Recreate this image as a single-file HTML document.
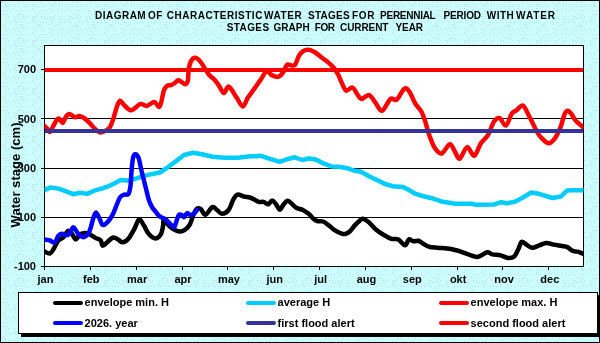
<!DOCTYPE html>
<html><head><meta charset="utf-8"><style>html,body{margin:0;padding:0;background:#CCFFFF;overflow:hidden}svg{display:block;will-change:transform}</style></head>
<body><svg width="600" height="343" viewBox="0 0 600 343">
<defs><pattern id="dots" width="18" height="12" patternUnits="userSpaceOnUse"><rect width="18" height="12" fill="#CCFFFF"/><rect x="3" y="0" width="1" height="1" fill="#B4E2EC"/><rect x="1" y="2" width="1" height="1" fill="#B4E2EC"/><rect x="4" y="2" width="1" height="1" fill="#B4E2EC"/><rect x="5" y="4" width="1" height="1" fill="#B4E2EC"/><rect x="8" y="4" width="1" height="1" fill="#B4E2EC"/><rect x="14" y="4" width="1" height="1" fill="#B4E2EC"/><rect x="17" y="4" width="1" height="1" fill="#B4E2EC"/><rect x="0" y="6" width="1" height="1" fill="#B4E2EC"/><rect x="6" y="6" width="1" height="1" fill="#B4E2EC"/><rect x="15" y="6" width="1" height="1" fill="#B4E2EC"/><rect x="14" y="8" width="1" height="1" fill="#B4E2EC"/><rect x="4" y="10" width="1" height="1" fill="#B4E2EC"/><rect x="7" y="10" width="1" height="1" fill="#B4E2EC"/><rect x="10" y="10" width="1" height="1" fill="#B4E2EC"/><rect x="16" y="10" width="1" height="1" fill="#B4E2EC"/></pattern>
<clipPath id="plot"><rect x="44.5" y="45.5" width="539" height="221"/></clipPath></defs>
<rect x="0" y="0" width="600" height="343" fill="url(#dots)"/>
<rect x="0.5" y="0.5" width="599" height="342" fill="none" stroke="#000" stroke-width="1"/>
<rect x="44.5" y="45.5" width="539" height="221" fill="#fff" stroke="#000" stroke-width="1"/>
<line x1="44" y1="118.5" x2="584" y2="118.5" stroke="#000" stroke-width="1"/>
<line x1="44" y1="168.5" x2="584" y2="168.5" stroke="#000" stroke-width="1"/>
<line x1="44" y1="217.5" x2="584" y2="217.5" stroke="#000" stroke-width="1"/>
<line x1="41" y1="69.5" x2="44" y2="69.5" stroke="#000" stroke-width="1"/>
<text x="36" y="73" text-anchor="end" font-family='"Liberation Sans", sans-serif' font-weight="bold" font-size="11">700</text>
<line x1="41" y1="118.5" x2="44" y2="118.5" stroke="#000" stroke-width="1"/>
<text x="36" y="123" text-anchor="end" font-family='"Liberation Sans", sans-serif' font-weight="bold" font-size="11">500</text>
<line x1="41" y1="168.5" x2="44" y2="168.5" stroke="#000" stroke-width="1"/>
<text x="36" y="172" text-anchor="end" font-family='"Liberation Sans", sans-serif' font-weight="bold" font-size="11">300</text>
<line x1="41" y1="217.5" x2="44" y2="217.5" stroke="#000" stroke-width="1"/>
<text x="36" y="221" text-anchor="end" font-family='"Liberation Sans", sans-serif' font-weight="bold" font-size="11">100</text>
<line x1="41" y1="266.5" x2="44" y2="266.5" stroke="#000" stroke-width="1"/>
<text x="36" y="270" text-anchor="end" font-family='"Liberation Sans", sans-serif' font-weight="bold" font-size="11">-100</text>
<line x1="44.5" y1="266" x2="44.5" y2="270" stroke="#000" stroke-width="1"/>
<text x="45.5" y="283" text-anchor="middle" font-family='"Liberation Sans", sans-serif' font-weight="bold" font-size="11">jan</text>
<line x1="90.5" y1="266" x2="90.5" y2="270" stroke="#000" stroke-width="1"/>
<text x="91.35" y="283" text-anchor="middle" font-family='"Liberation Sans", sans-serif' font-weight="bold" font-size="11">feb</text>
<line x1="136.5" y1="266" x2="136.5" y2="270" stroke="#000" stroke-width="1"/>
<text x="137.2" y="283" text-anchor="middle" font-family='"Liberation Sans", sans-serif' font-weight="bold" font-size="11">mar</text>
<line x1="182.5" y1="266" x2="182.5" y2="270" stroke="#000" stroke-width="1"/>
<text x="183.05" y="283" text-anchor="middle" font-family='"Liberation Sans", sans-serif' font-weight="bold" font-size="11">apr</text>
<line x1="227.5" y1="266" x2="227.5" y2="270" stroke="#000" stroke-width="1"/>
<text x="228.9" y="283" text-anchor="middle" font-family='"Liberation Sans", sans-serif' font-weight="bold" font-size="11">may</text>
<line x1="273.5" y1="266" x2="273.5" y2="270" stroke="#000" stroke-width="1"/>
<text x="274.75" y="283" text-anchor="middle" font-family='"Liberation Sans", sans-serif' font-weight="bold" font-size="11">jun</text>
<line x1="319.5" y1="266" x2="319.5" y2="270" stroke="#000" stroke-width="1"/>
<text x="320.6" y="283" text-anchor="middle" font-family='"Liberation Sans", sans-serif' font-weight="bold" font-size="11">jul</text>
<line x1="365.5" y1="266" x2="365.5" y2="270" stroke="#000" stroke-width="1"/>
<text x="366.45" y="283" text-anchor="middle" font-family='"Liberation Sans", sans-serif' font-weight="bold" font-size="11">aug</text>
<line x1="411.5" y1="266" x2="411.5" y2="270" stroke="#000" stroke-width="1"/>
<text x="412.3" y="283" text-anchor="middle" font-family='"Liberation Sans", sans-serif' font-weight="bold" font-size="11">sep</text>
<line x1="457.5" y1="266" x2="457.5" y2="270" stroke="#000" stroke-width="1"/>
<text x="458.15000000000003" y="283" text-anchor="middle" font-family='"Liberation Sans", sans-serif' font-weight="bold" font-size="11">okt</text>
<line x1="502.5" y1="266" x2="502.5" y2="270" stroke="#000" stroke-width="1"/>
<text x="504.0" y="283" text-anchor="middle" font-family='"Liberation Sans", sans-serif' font-weight="bold" font-size="11">nov</text>
<line x1="548.5" y1="266" x2="548.5" y2="270" stroke="#000" stroke-width="1"/>
<text x="549.85" y="283" text-anchor="middle" font-family='"Liberation Sans", sans-serif' font-weight="bold" font-size="11">dec</text>
<g clip-path="url(#plot)" fill="none" stroke-linejoin="round" stroke-linecap="round">
<path d="M44.5,251.5 C45.4,251.8 48.3,253.9 49.8,253.5 C51.3,253.1 52.2,251.2 53.6,249.0 C55.0,246.8 56.8,242.3 58.4,240.4 C60.0,238.5 61.6,239.1 63.2,237.5 C64.8,235.9 66.5,231.4 68.0,230.8 C69.5,230.2 70.6,232.3 71.9,233.7 C73.2,235.1 74.3,239.3 75.7,239.4 C77.1,239.5 78.9,235.2 80.5,234.2 C82.1,233.1 83.7,233.0 85.3,233.1 C86.9,233.2 88.4,233.8 90.2,234.6 C92.0,235.4 94.2,237.1 95.9,238.1 C97.7,239.1 99.6,239.1 100.7,240.4 C101.8,241.7 101.6,245.6 102.7,245.8 C103.8,246.1 105.8,243.3 107.5,241.9 C109.2,240.5 111.5,237.9 113.2,237.5 C115.0,237.1 116.4,238.6 118.0,239.4 C119.6,240.2 121.0,242.5 122.8,242.3 C124.6,242.2 126.7,240.8 128.6,238.5 C130.5,236.2 132.6,232.0 134.4,228.8 C136.2,225.6 137.6,219.7 139.2,219.2 C140.8,218.7 142.4,223.3 143.9,225.6 C145.4,227.9 146.5,230.8 147.9,232.8 C149.3,234.8 151.0,236.5 152.5,237.4 C154.0,238.3 155.7,238.7 157.1,238.1 C158.5,237.5 160.0,236.1 161.0,234.1 C162.0,232.1 162.6,228.6 163.0,226.2 C163.4,223.8 163.2,220.4 163.6,219.7 C164.0,218.9 164.5,220.5 165.6,221.7 C166.7,222.9 168.6,225.5 170.2,226.9 C171.8,228.3 173.7,229.4 175.4,230.2 C177.2,231.0 179.0,231.6 180.7,231.5 C182.3,231.4 183.8,230.7 185.3,229.5 C186.8,228.3 188.6,226.6 189.9,224.3 C191.2,222.0 192.0,218.2 193.1,215.7 C194.2,213.2 195.1,210.3 196.4,209.2 C197.7,208.1 199.2,208.1 200.7,209.0 C202.2,209.9 203.6,215.1 205.5,214.8 C207.4,214.5 210.4,207.9 212.3,207.1 C214.2,206.3 215.5,208.9 217.1,210.0 C218.7,211.1 220.0,213.8 221.9,213.8 C223.8,213.8 226.7,212.4 228.6,210.0 C230.5,207.6 231.9,202.0 233.4,199.4 C234.9,196.8 235.5,195.1 237.3,194.6 C239.1,194.1 241.9,196.0 244.0,196.5 C246.1,197.0 248.1,197.0 249.8,197.5 C251.5,198.0 252.5,198.7 254.0,199.4 C255.5,200.1 257.1,201.5 258.7,201.9 C260.3,202.3 261.9,201.5 263.5,201.9 C265.1,202.3 266.9,204.4 268.3,204.2 C269.7,203.9 270.8,200.4 272.1,200.4 C273.4,200.4 274.7,202.7 276.0,204.2 C277.3,205.7 278.5,209.6 279.8,209.6 C281.1,209.6 282.4,205.7 283.7,204.2 C285.0,202.7 286.2,201.0 287.5,200.8 C288.8,200.7 289.9,202.2 291.3,203.3 C292.8,204.5 294.3,206.6 296.2,207.7 C298.1,208.8 300.8,209.0 302.9,210.0 C305.0,211.0 306.9,212.4 308.7,213.8 C310.5,215.2 312.1,217.5 313.5,218.7 C314.9,219.9 315.7,220.7 317.3,221.2 C318.9,221.7 321.2,220.8 323.1,221.5 C325.0,222.2 326.9,224.0 328.8,225.4 C330.7,226.8 332.7,228.9 334.6,230.2 C336.5,231.5 338.6,232.5 340.4,233.1 C342.2,233.7 343.6,234.3 345.2,234.0 C346.8,233.7 348.4,232.6 350.0,231.2 C351.6,229.8 353.3,227.0 354.8,225.4 C356.3,223.8 357.5,222.6 358.8,221.5 C360.1,220.4 361.1,218.7 362.7,218.8 C364.3,218.9 366.2,220.3 368.5,222.1 C370.8,223.9 373.6,227.7 376.2,229.8 C378.8,232.0 381.2,233.5 383.8,235.0 C386.4,236.5 389.1,238.1 391.5,238.8 C393.9,239.5 396.1,238.3 398.3,239.4 C400.6,240.5 403.2,245.2 405.0,245.2 C406.8,245.2 407.4,240.1 408.8,239.4 C410.2,238.8 412.1,241.1 413.7,241.3 C415.3,241.5 416.9,240.4 418.5,240.8 C420.1,241.2 421.6,242.8 423.3,243.8 C425.1,244.8 426.6,246.0 429.0,246.7 C431.4,247.3 434.6,247.4 437.7,247.7 C440.8,248.0 444.4,248.1 447.3,248.5 C450.2,248.9 452.9,249.5 455.0,250.0 C457.1,250.5 457.8,250.6 460.0,251.3 C462.2,252.0 465.4,253.5 468.3,254.4 C471.2,255.3 474.6,257.2 477.7,256.9 C480.8,256.5 484.7,252.7 487.1,252.3 C489.5,251.9 490.1,253.9 492.3,254.4 C494.6,254.9 498.0,254.8 500.6,255.4 C503.2,256.0 505.6,257.7 507.9,257.9 C510.2,258.1 512.5,257.9 514.2,256.5 C515.9,255.1 517.1,251.6 518.3,249.2 C519.5,246.8 520.3,242.8 521.5,241.9 C522.7,241.0 523.9,243.0 525.6,244.0 C527.3,245.0 529.6,247.5 531.9,247.7 C534.2,247.9 536.8,246.2 539.2,245.4 C541.6,244.6 544.1,243.0 546.5,242.9 C548.9,242.8 551.2,244.1 553.8,244.6 C556.4,245.1 559.9,245.6 562.1,246.0 C564.4,246.4 565.6,246.3 567.3,247.1 C569.0,247.9 570.8,250.0 572.5,250.8 C574.2,251.6 575.9,251.2 577.7,251.7 C579.5,252.2 582.5,253.5 583.5,253.8" stroke="#000" stroke-width="4.5"/>
<path d="M44.5,190.1 L51.0,187.4 L59.2,188.9 L66.2,191.3 L73.2,194.2 L80.2,192.8 L87.2,193.9 L94.2,190.7 L102.3,188.3 L110.0,185.6 L115.2,183.0 L120.5,180.1 L127.0,180.6 L133.6,179.3 L140.1,177.1 L148.0,174.9 L159.8,172.5 L167.7,167.3 L175.3,161.8 L184.0,155.0 L193.0,152.7 L202.0,154.2 L212.5,156.8 L224.5,157.7 L238.0,157.7 L250.0,156.2 L255.5,156.3 L261.0,155.8 L270.0,158.8 L279.7,161.8 L287.2,159.2 L294.7,157.3 L302.2,160.0 L309.0,158.5 L316.5,159.7 L324.0,163.7 L331.5,166.4 L339.0,166.7 L347.5,168.2 L353.5,170.5 L361.0,171.7 L370.0,176.8 L377.5,180.2 L385.0,184.0 L392.5,186.2 L403.0,187.0 L409.0,190.0 L415.0,193.7 L422.5,196.0 L434.0,198.8 L443.0,201.8 L455.0,203.7 L471.5,203.7 L476.0,204.8 L494.0,204.5 L501.5,202.2 L506.7,203.3 L515.0,201.8 L523.0,197.5 L531.0,192.6 L539.0,193.8 L552.5,198.0 L561.0,196.5 L567.0,190.5 L573.5,190.3 L583.5,190.3" stroke="#00CCFF" stroke-width="4.5"/>
<path d="M44.5,126.0 C45.0,126.5 46.4,127.7 47.3,128.7 C48.2,129.7 49.0,132.4 50.0,132.0 C51.0,131.6 52.2,128.0 53.3,126.0 C54.4,124.0 55.7,121.2 56.7,120.0 C57.7,118.8 58.3,118.2 59.3,118.7 C60.3,119.2 61.6,123.2 62.7,122.9 C63.8,122.6 64.9,118.2 66.0,116.7 C67.1,115.2 67.8,113.9 69.3,114.0 C70.8,114.1 73.6,117.0 75.3,117.3 C77.0,117.6 77.8,115.9 79.3,116.0 C80.8,116.1 82.3,116.9 84.0,118.0 C85.7,119.1 87.5,120.9 89.3,122.7 C91.1,124.5 93.1,127.1 94.7,128.7 C96.3,130.2 97.4,131.4 98.7,132.0 C100.0,132.6 100.9,132.7 102.7,132.0 C104.5,131.3 107.5,130.2 109.3,128.0 C111.1,125.8 112.1,122.2 113.3,118.7 C114.5,115.2 115.6,110.3 116.7,107.3 C117.8,104.3 118.8,101.0 120.0,100.7 C121.2,100.4 122.5,103.6 124.2,105.2 C126.0,106.8 128.6,109.8 130.5,110.2 C132.4,110.6 133.8,108.8 135.5,107.7 C137.2,106.7 138.6,104.2 140.5,103.9 C142.4,103.6 144.5,106.2 146.8,105.9 C149.1,105.6 152.1,102.0 154.3,102.1 C156.5,102.2 158.2,108.3 159.8,106.4 C161.4,104.5 162.6,94.1 163.8,90.7 C165.0,87.3 165.8,86.8 167.0,85.9 C168.2,85.0 169.8,85.5 171.0,85.1 C172.2,84.7 173.0,84.3 174.2,83.5 C175.4,82.7 177.0,80.6 178.2,80.3 C179.4,80.0 180.2,81.2 181.4,81.9 C182.6,82.6 184.3,84.6 185.4,84.3 C186.5,84.0 187.4,82.8 187.9,80.3 C188.4,77.8 188.2,72.2 188.7,69.0 C189.2,65.8 190.0,62.9 191.1,61.0 C192.2,59.1 193.6,57.8 195.1,57.8 C196.6,57.8 198.3,59.3 199.9,61.0 C201.5,62.7 203.1,65.8 204.7,68.2 C206.3,70.6 207.9,73.5 209.5,75.4 C211.1,77.3 212.7,77.8 214.3,79.5 C215.9,81.2 217.5,83.6 219.1,85.9 C220.7,88.2 222.4,93.0 223.9,93.1 C225.4,93.2 226.6,87.3 227.9,86.7 C229.2,86.1 230.2,87.8 231.6,89.6 C233.0,91.4 234.7,94.8 236.6,97.6 C238.5,100.4 241.0,106.4 242.9,106.4 C244.8,106.4 246.0,100.5 247.9,97.6 C249.8,94.7 252.1,91.8 254.2,88.9 C256.3,86.0 258.3,83.0 260.4,80.1 C262.5,77.2 264.8,72.1 266.7,71.3 C268.6,70.5 269.8,74.2 271.7,75.1 C273.6,76.0 276.1,77.2 278.0,76.8 C279.9,76.4 281.5,74.6 283.0,72.6 C284.5,70.6 285.6,66.3 286.8,65.0 C288.0,63.7 288.7,65.0 290.0,65.0 C291.3,65.0 293.3,66.5 294.8,65.0 C296.3,63.5 297.5,58.5 298.8,56.2 C300.1,53.9 301.2,52.5 302.8,51.4 C304.4,50.3 306.4,49.7 308.4,49.8 C310.4,49.9 312.5,50.9 314.8,52.2 C317.1,53.5 319.7,56.1 322.0,57.8 C324.3,59.5 326.5,60.9 328.5,62.6 C330.5,64.3 332.5,66.2 334.1,68.2 C335.7,70.2 336.8,72.0 338.1,74.6 C339.4,77.1 340.8,80.8 342.1,83.5 C343.4,86.2 344.4,90.0 346.1,90.7 C347.8,91.4 350.6,86.8 352.5,87.5 C354.4,88.2 356.3,93.2 357.8,95.1 C359.3,97.0 359.7,98.9 361.6,98.9 C363.5,98.9 366.8,94.5 369.1,95.1 C371.4,95.7 373.2,100.0 375.4,102.6 C377.6,105.2 379.6,111.3 382.1,110.7 C384.6,110.1 388.0,100.8 390.4,98.9 C392.8,97.1 394.4,101.3 396.7,99.6 C399.0,97.9 402.1,90.3 404.2,88.9 C406.3,87.5 407.3,88.9 409.2,91.4 C411.1,93.9 413.5,100.6 415.5,103.9 C417.5,107.2 419.7,108.6 421.3,111.5 C422.9,114.4 423.9,117.4 425.2,121.2 C426.5,125.0 427.4,130.1 429.0,134.6 C430.6,139.1 432.7,144.9 434.8,148.1 C436.9,151.2 439.0,154.2 441.5,153.5 C444.0,152.8 447.6,144.5 449.8,144.2 C452.1,143.9 453.3,149.5 455.0,151.9 C456.7,154.3 457.8,159.5 459.8,158.7 C461.8,157.9 464.7,147.6 467.1,147.1 C469.5,146.6 471.9,156.4 474.2,155.8 C476.5,155.2 478.6,146.8 480.9,143.3 C483.2,139.9 485.7,138.8 487.9,135.1 C490.1,131.4 492.2,124.1 494.2,121.3 C496.2,118.5 497.8,117.4 499.7,118.1 C501.6,118.8 503.9,126.3 505.9,125.6 C507.9,124.9 509.9,116.4 511.7,113.8 C513.5,111.2 514.8,111.5 516.7,110.1 C518.6,108.7 520.9,104.5 523.0,105.5 C525.1,106.5 526.9,112.0 529.2,116.3 C531.5,120.6 534.9,128.0 536.8,131.4 C538.7,134.8 538.5,134.7 540.4,136.7 C542.3,138.7 546.0,142.9 548.4,143.2 C550.8,143.5 552.9,141.0 554.9,138.3 C556.9,135.6 558.9,131.1 560.5,127.1 C562.1,123.1 563.3,117.0 564.5,114.3 C565.7,111.6 566.5,110.7 567.7,110.7 C568.9,110.7 570.4,112.6 571.7,114.3 C573.0,116.0 574.0,118.7 575.7,120.7 C577.5,122.7 580.9,125.1 582.2,126.3 C583.5,127.5 583.3,127.7 583.5,128.0" stroke="#FF0000" stroke-width="4.5"/>
<path d="M44.5,239.5 C45.4,239.7 48.3,240.0 50.0,240.5 C51.7,241.0 53.3,243.1 54.7,242.3 C56.1,241.5 57.2,237.2 58.4,235.8 C59.6,234.4 60.8,233.9 62.0,233.8 C63.2,233.7 64.5,235.3 65.7,235.3 C66.9,235.3 68.2,235.3 69.4,234.0 C70.6,232.7 71.8,227.7 73.0,227.3 C74.2,226.9 75.6,230.3 76.7,231.6 C77.8,232.9 78.2,234.4 79.4,235.3 C80.6,236.2 82.5,237.4 84.0,237.1 C85.5,236.8 87.2,235.1 88.3,233.5 C89.4,231.9 90.0,229.7 90.8,227.3 C91.6,224.9 92.2,221.7 93.0,219.2 C93.8,216.7 94.8,212.5 95.9,212.5 C97.0,212.5 98.7,217.1 99.8,219.2 C100.9,221.3 101.4,224.5 102.7,225.0 C104.0,225.5 105.9,223.7 107.5,222.1 C109.1,220.5 110.8,218.1 112.3,215.4 C113.8,212.8 114.9,209.3 116.2,206.2 C117.5,203.1 118.9,198.9 120.3,197.0 C121.7,195.1 123.0,195.1 124.4,194.6 C125.8,194.1 127.5,195.5 128.5,194.0 C129.5,192.5 130.0,189.6 130.5,185.8 C131.0,182.1 131.1,176.3 131.5,171.5 C131.9,166.7 132.5,160.1 133.2,157.2 C133.9,154.3 134.7,154.0 135.6,154.2 C136.5,154.4 137.7,155.4 138.7,158.3 C139.7,161.2 140.5,166.6 141.7,171.5 C142.9,176.4 144.6,183.1 145.8,187.9 C147.0,192.7 147.9,197.0 148.9,200.1 C149.9,203.2 150.7,204.6 151.8,206.6 C152.9,208.6 154.4,210.2 155.7,211.8 C157.0,213.4 157.9,215.1 159.7,216.4 C161.4,217.7 163.9,217.9 166.2,219.7 C168.5,221.4 171.8,226.5 173.5,226.9 C175.2,227.3 175.2,224.3 176.1,222.3 C177.0,220.3 177.7,216.3 178.7,215.1 C179.7,213.9 181.1,214.8 182.0,215.1 C182.9,215.4 183.1,217.4 184.0,217.1 C184.9,216.8 186.1,213.4 187.2,213.1 C188.3,212.8 189.4,215.0 190.5,215.1 C191.6,215.2 192.7,214.7 193.8,213.8 C194.9,212.9 196.6,210.5 197.1,209.8" stroke="#0000FF" stroke-width="4.5"/>
<rect x="45" y="129" width="538" height="4" fill="#333399"/>
<rect x="45" y="68" width="538" height="4" fill="#FF0000"/>
</g>
<text x="95.0" y="19" textLength="50.7" lengthAdjust="spacing" font-family='"Liberation Sans", sans-serif' font-weight="bold" font-size="10">DIAGRAM</text>
<text x="148.1" y="19" textLength="14.3" lengthAdjust="spacing" font-family='"Liberation Sans", sans-serif' font-weight="bold" font-size="10">OF</text>
<text x="166.7" y="19" textLength="95.7" lengthAdjust="spacing" font-family='"Liberation Sans", sans-serif' font-weight="bold" font-size="10">CHARACTERISTIC</text>
<text x="264.1" y="19" textLength="37.6" lengthAdjust="spacing" font-family='"Liberation Sans", sans-serif' font-weight="bold" font-size="10">WATER</text>
<text x="308.1" y="19" textLength="41.6" lengthAdjust="spacing" font-family='"Liberation Sans", sans-serif' font-weight="bold" font-size="10">STAGES</text>
<text x="352.1" y="19" textLength="22.3" lengthAdjust="spacing" font-family='"Liberation Sans", sans-serif' font-weight="bold" font-size="10">FOR</text>
<text x="380.1" y="19" textLength="55.6" lengthAdjust="spacing" font-family='"Liberation Sans", sans-serif' font-weight="bold" font-size="10">PERENNIAL</text>
<text x="443.4" y="19" textLength="37.7" lengthAdjust="spacing" font-family='"Liberation Sans", sans-serif' font-weight="bold" font-size="10">PERIOD</text>
<text x="486.7" y="19" textLength="27.0" lengthAdjust="spacing" font-family='"Liberation Sans", sans-serif' font-weight="bold" font-size="10">WITH</text>
<text x="516.1" y="19" textLength="39.0" lengthAdjust="spacing" font-family='"Liberation Sans", sans-serif' font-weight="bold" font-size="10">WATER</text>
<text x="226.7" y="31" textLength="42.4" lengthAdjust="spacing" font-family='"Liberation Sans", sans-serif' font-weight="bold" font-size="10">STAGES</text>
<text x="273.4" y="31" textLength="36.3" lengthAdjust="spacing" font-family='"Liberation Sans", sans-serif' font-weight="bold" font-size="10">GRAPH</text>
<text x="314.7" y="31" textLength="20.4" lengthAdjust="spacing" font-family='"Liberation Sans", sans-serif' font-weight="bold" font-size="10">FOR</text>
<text x="340.1" y="31" textLength="48.3" lengthAdjust="spacing" font-family='"Liberation Sans", sans-serif' font-weight="bold" font-size="10">CURRENT</text>
<text x="395.4" y="31" textLength="27.7" lengthAdjust="spacing" font-family='"Liberation Sans", sans-serif' font-weight="bold" font-size="10">YEAR</text>
<text transform="translate(20,174.9) rotate(-90)" text-anchor="middle" font-family='"Liberation Sans", sans-serif' font-weight="bold" font-size="13.1">Water stage (cm)</text>
<rect x="21" y="295" width="579" height="42" fill="#000"/>
<rect x="18.5" y="292.5" width="579" height="41" fill="#fff" stroke="#000" stroke-width="1"/>
<line x1="55" y1="303" x2="81" y2="303" stroke="#000" stroke-width="4" stroke-linecap="round"/>
<text x="84.6" y="305.5" font-family='"Liberation Sans", sans-serif' font-weight="bold" font-size="11">envelope min. H</text>
<line x1="248" y1="303" x2="274" y2="303" stroke="#00CCFF" stroke-width="4" stroke-linecap="round"/>
<text x="277.6" y="305.5" font-family='"Liberation Sans", sans-serif' font-weight="bold" font-size="11">average H</text>
<line x1="441" y1="303" x2="467" y2="303" stroke="#FF0000" stroke-width="4" stroke-linecap="round"/>
<text x="470.6" y="305.5" font-family='"Liberation Sans", sans-serif' font-weight="bold" font-size="11">envelope max. H</text>
<line x1="55" y1="323" x2="81" y2="323" stroke="#0000FF" stroke-width="4" stroke-linecap="round"/>
<text x="84.6" y="326.5" font-family='"Liberation Sans", sans-serif' font-weight="bold" font-size="11">2026. year</text>
<line x1="248" y1="323" x2="274" y2="323" stroke="#333399" stroke-width="4" stroke-linecap="round"/>
<text x="277.6" y="326.5" font-family='"Liberation Sans", sans-serif' font-weight="bold" font-size="11">first flood alert</text>
<line x1="441" y1="323" x2="467" y2="323" stroke="#FF0000" stroke-width="4" stroke-linecap="round"/>
<text x="470.6" y="326.5" font-family='"Liberation Sans", sans-serif' font-weight="bold" font-size="11">second flood alert</text>
</svg></body></html>
